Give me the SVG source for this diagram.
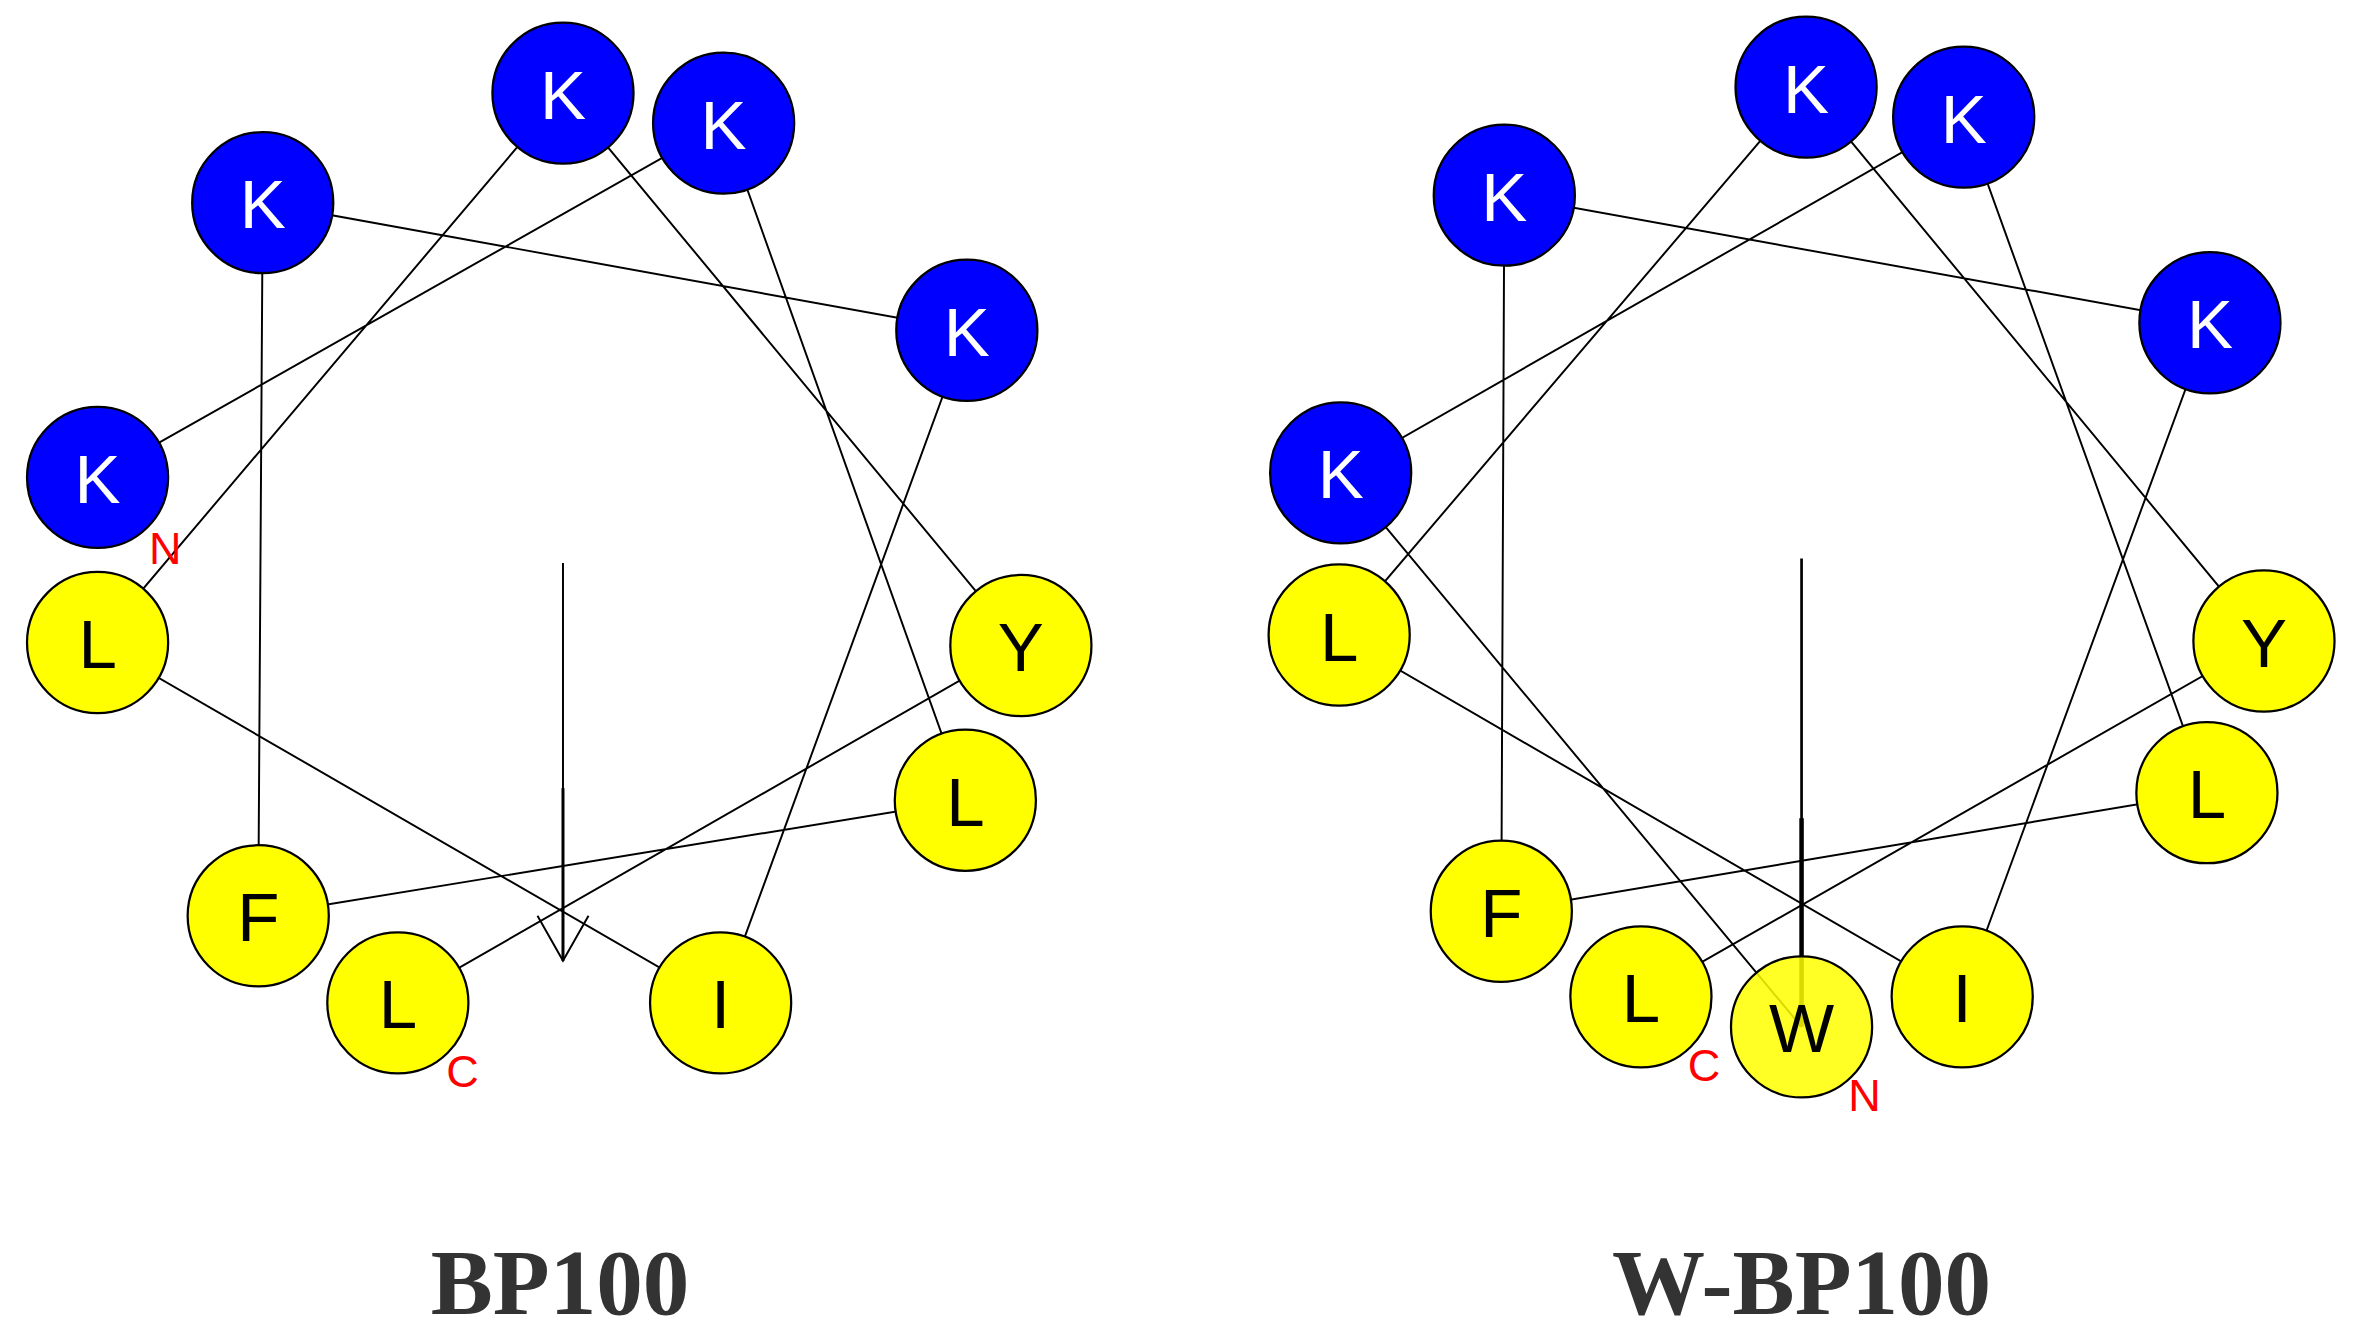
<svg xmlns="http://www.w3.org/2000/svg" width="2354" height="1333" viewBox="0 0 2354 1333">
<style>
.b{fill:#0000ff;stroke:#000;stroke-width:1.5}
.y{fill:#ffff00;stroke:#000;stroke-width:1.5}
.tw{font-family:"Liberation Sans",Arial,sans-serif;font-size:46px;fill:#fff;text-anchor:middle}
.tk{font-family:"Liberation Sans",Arial,sans-serif;font-size:46px;fill:#000;text-anchor:middle}
.r{font-family:"Liberation Sans",Arial,sans-serif;font-size:30px;fill:#ff0000;text-anchor:middle}
.ti{font-family:"Liberation Serif","Times New Roman",serif;font-size:62px;font-weight:bold;fill:#333;text-anchor:middle}
.c line,.c polyline{stroke:#000;stroke-width:1.3;fill:none}
</style>
<rect width="2354" height="1333" fill="#fff"/>
<g transform="scale(1.5013)">
<g id="connectors" class="c">
<polyline points="65,318 482,82 643,533 172,610 175,135 644,220 480,668 65,428 375,62 680,430 265,668"/>
<line x1="375" y1="375" x2="375" y2="640"/>
<line x1="375" y1="525" x2="375" y2="640" style="stroke-width:2"/>
<polyline points="358,610 375,640 392,610"/>
<polyline points="1200,684 893,315 1308,78 1470,528 1000,607 1002,130 1472,215 1307,664 892,423 1203,58 1508,427 1093,664"/>
<line x1="1200" y1="372" x2="1200" y2="684" style="stroke-width:1.8"/>
<line x1="1200" y1="545" x2="1200" y2="684" style="stroke-width:3"/>
</g>
<g id="left">
<g id="n1"><circle class="b" cx="375" cy="62" r="47"/><text class="tw" x="375" y="79">K</text></g>
<g id="n2"><circle class="b" cx="482" cy="82" r="47"/><text class="tw" x="482" y="99">K</text></g>
<g id="n3"><circle class="b" cx="175" cy="135" r="47"/><text class="tw" x="175" y="152">K</text></g>
<g id="n4"><circle class="b" cx="644" cy="220" r="47"/><text class="tw" x="644" y="237">K</text></g>
<g id="n5"><circle class="b" cx="65" cy="318" r="47"/><text class="tw" x="65" y="335">K</text></g>
<g id="n6"><circle class="y" cx="65" cy="428" r="47"/><text class="tk" x="65" y="445">L</text></g>
<g id="n7"><circle class="y" cx="680" cy="430" r="47"/><text class="tk" x="680" y="447">Y</text></g>
<g id="n8"><circle class="y" cx="643" cy="533" r="47"/><text class="tk" x="643" y="550">L</text></g>
<g id="n9"><circle class="y" cx="172" cy="610" r="47"/><text class="tk" x="172" y="627">F</text></g>
<g id="n10"><circle class="y" cx="265" cy="668" r="47"/><text class="tk" x="265" y="685">L</text></g>
<g id="n11"><circle class="y" cx="480" cy="668" r="47"/><text class="tk" x="480" y="685">I</text></g>
<text class="r" x="110" y="376">N</text>
<text class="r" x="308" y="724">C</text>
<text class="ti" x="373" y="875">BP100</text>
</g>
<g id="right">
<g id="m1"><circle class="b" cx="1203" cy="58" r="47"/><text class="tw" x="1203" y="75">K</text></g>
<g id="m2"><circle class="b" cx="1308" cy="78" r="47"/><text class="tw" x="1308" y="95">K</text></g>
<g id="m3"><circle class="b" cx="1002" cy="130" r="47"/><text class="tw" x="1002" y="147">K</text></g>
<g id="m4"><circle class="b" cx="1472" cy="215" r="47"/><text class="tw" x="1472" y="232">K</text></g>
<g id="m5"><circle class="b" cx="893" cy="315" r="47"/><text class="tw" x="893" y="332">K</text></g>
<g id="m6"><circle class="y" cx="892" cy="423" r="47"/><text class="tk" x="892" y="440">L</text></g>
<g id="m7"><circle class="y" cx="1508" cy="427" r="47"/><text class="tk" x="1508" y="444">Y</text></g>
<g id="m8"><circle class="y" cx="1470" cy="528" r="47"/><text class="tk" x="1470" y="545">L</text></g>
<g id="m9"><circle class="y" cx="1000" cy="607" r="47"/><text class="tk" x="1000" y="624">F</text></g>
<g id="m10"><circle class="y" cx="1093" cy="664" r="47"/><text class="tk" x="1093" y="681">L</text></g>
<g id="m12"><circle class="y" cx="1307" cy="664" r="47"/><text class="tk" x="1307" y="681">I</text></g>
<g id="m11"><circle class="y" cx="1200" cy="684" r="47" style="fill-opacity:0.85"/><text class="tk" x="1200" y="701">W</text></g>
<text class="r" x="1135" y="720">C</text>
<text class="r" x="1242" y="740">N</text>
<text class="ti" x="1200" y="875">W-BP100</text>
</g>
</g>
</svg>
